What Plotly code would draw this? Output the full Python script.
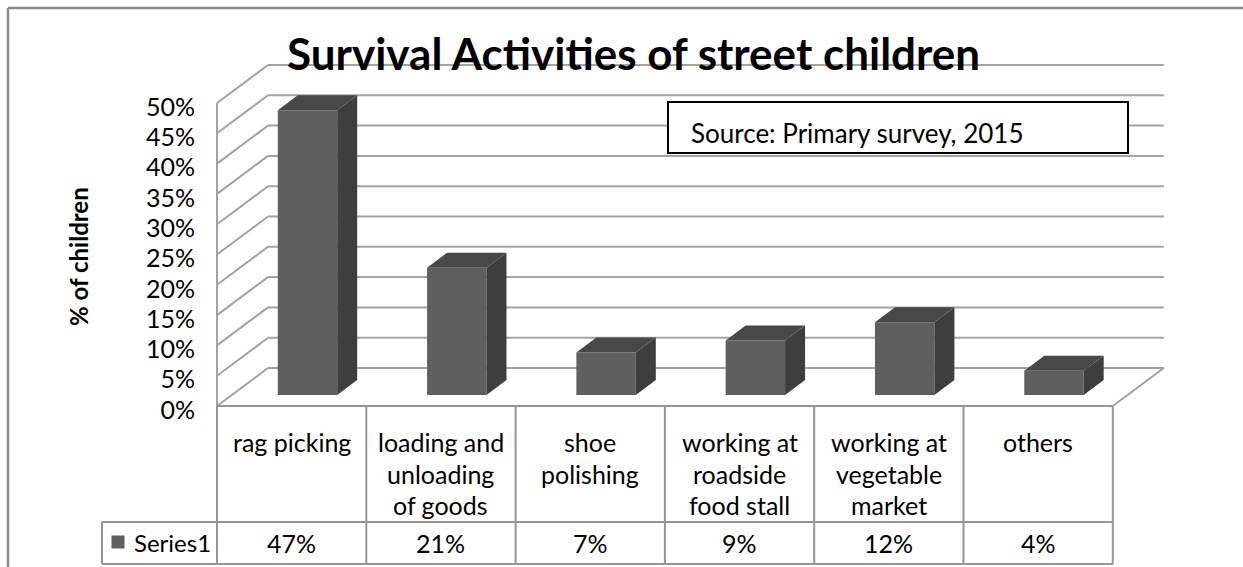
import plotly.graph_objects as go

# ---- data ----
categories = ["rag picking", "loading and<br>unloading<br>of goods", "shoe<br>polishing",
              "working at<br>roadside<br>food stall", "working at<br>vegetable<br>market", "others"]
values = [47, 21, 7, 9, 12, 4]
series_name = "Series1"
y_ticks = [0, 5, 10, 15, 20, 25, 30, 35, 40, 45, 50]
y_ticktext = [f"{t}%" for t in y_ticks]
title = "Survival Activities of street children"
y_title = "% of children"
source_text = "Source: Primary survey, 2015"

# ---- geometry (pixel layout -> axis units) ----
W, H = 1243, 567
X0, XU = 217.0, 149.3      # x=0 at 217px, one category = 149.3px
Y0, YU = 406.0, 6.06       # y=0% at 406px, 1% = 6.06px
def px2x(px): return (px - X0) / XU
def px2y(py): return (Y0 - py) / YU

DX, DY = 51 / XU, 38 / YU          # wall depth
BASE = 11 / YU                      # bar front bottom offset
BL, BR = 0.407, 0.805               # bar front face within category
BDX, BDY = 20 / XU, 15 / YU         # bar depth

FRONT, SIDE, TOP = "#5f5f5f", "#3e3e3e", "#484848"
GRID = "#a3a3a3"
TABLE = "#959595"
FONT = "Lato"

n = len(categories)
fig = go.Figure()

# front faces as bars
fig.add_trace(go.Bar(
    x=[i + (BL + BR) / 2 for i in range(n)], y=values, base=BASE, width=BR - BL,
    marker=dict(color=FRONT, line=dict(width=0)), showlegend=False, hoverinfo="skip"))

# side and top faces
sx, sy, tx, ty = [], [], [], []
for i, v in enumerate(values):
    L, R = i + BL, i + BR
    sx += [R, R + BDX, R + BDX, R, R, None]
    sy += [BASE, BASE + BDY, BASE + v + BDY, BASE + v, BASE, None]
    tx += [L, L + BDX, R + BDX, R, L, None]
    ty += [BASE + v, BASE + v + BDY, BASE + v + BDY, BASE + v, BASE + v, None]
fig.add_trace(go.Scatter(x=sx, y=sy, fill="toself", fillcolor=SIDE, mode="lines",
                         line=dict(width=0, color=SIDE), showlegend=False, hoverinfo="skip"))
fig.add_trace(go.Scatter(x=tx, y=ty, fill="toself", fillcolor=TOP, mode="lines",
                         line=dict(width=0, color=TOP), showlegend=False, hoverinfo="skip"))

shapes = []
def line(x0, y0, x1, y1, color, width, layer="below", ref=("x", "y")):
    shapes.append(dict(type="line", x0=x0, y0=y0, x1=x1, y1=y1, xref=ref[0], yref=ref[1],
                       line=dict(color=color, width=width), layer=layer))

# walls / gridlines
for t in y_ticks:
    line(0, t, DX, t + DY, GRID, 2)
    line(DX, t + DY, n + DX, t + DY, GRID, 2)
line(0, 0, 0, y_ticks[-1], GRID, 2)
line(n, 0, n + DX, DY, GRID, 2)

# data table
r1 = px2y(522)
r2 = px2y(564)
xl = px2x(102)
line(0, 0, n, 0, TABLE, 2, "above")
line(xl, r1, n, r1, TABLE, 2, "above")
line(xl, r2, n, r2, TABLE, 2, "above")
line(xl, r1, xl, r2, TABLE, 2, "above")
for i in range(n + 1):
    line(i, 0, i, r2, TABLE, 2, "above")

# outer frame
line(8 / W, 1 - 8 / H, 1, 1 - 8 / H, "#8a8a8a", 2.5, "above", ("paper", "paper"))
line(8 / W, 1 - 8 / H, 8 / W, 0, "#8a8a8a", 2.5, "above", ("paper", "paper"))

# source box
shapes.append(dict(type="rect", xref="x", yref="y", x0=px2x(668), x1=px2x(1128),
                   y0=px2y(153), y1=px2y(102), line=dict(color="black", width=2),
                   fillcolor="white", layer="above"))

annotations = []
def text(s, x, y, size, xanchor="center", bold=False, angle=0):
    annotations.append(dict(text=f"<b>{s}</b>" if bold else s, x=x, y=y, xref="x", yref="y",
                            xanchor=xanchor, yanchor="middle", showarrow=False, textangle=angle,
                            font=dict(family=FONT, size=size, color="black")))

line_y = [442, 474, 505]
for i, c in enumerate(categories):
    for k, part in enumerate(c.split("<br>")):
        text(part, i + 0.5, px2y(line_y[k]), 25)
for i, v in enumerate(values):
    text(f"{v}%", i + 0.5, px2y(543), 25)
text(series_name, px2x(132), px2y(542), 24, xanchor="left")
fig.add_trace(go.Scatter(x=[px2x(118)], y=[px2y(542)], mode="markers",
                         marker=dict(symbol="square", size=13, color=FRONT),
                         showlegend=False, hoverinfo="skip"))

text(title, px2x(633), px2y(53), 44, bold=True)
text(y_title, px2x(78), px2y(257), 24, bold=True, angle=-90)
text(source_text, px2x(689), px2y(133), 26, xanchor="left")

fig.update_layout(
    width=W, height=H, margin=dict(l=0, r=0, t=0, b=0),
    paper_bgcolor="white", plot_bgcolor="white",
    shapes=shapes, annotations=annotations, showlegend=False,
    xaxis=dict(range=[px2x(0), px2x(W)], visible=False, fixedrange=True),
    yaxis=dict(range=[px2y(H), px2y(0)], anchor="free", position=X0 / W,
               showgrid=False, zeroline=False, showline=False,
               tickvals=y_ticks, ticktext=y_ticktext, ticks="", ticklabelstandoff=22,
               ticklabelshift=4,
               tickfont=dict(family=FONT, size=25, color="black"), fixedrange=True),
)
fig.write_html("out.html")
